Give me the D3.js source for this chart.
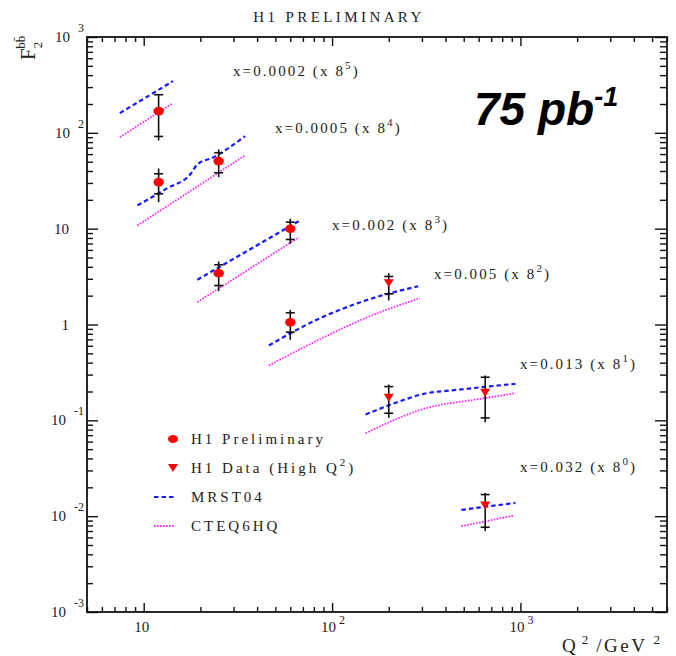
<!DOCTYPE html>
<html>
<head>
<meta charset="utf-8">
<script src="https://cdn.jsdelivr.net/npm/d3@7"></script>
<style>
  body { margin: 0; background: #fff; }
  text { font-family: "Liberation Serif", "Times New Roman", serif; fill: #222; }
</style>
</head>
<body>
<svg id="chart" width="676" height="656"></svg>
<script>
// x bins and the 8^n factor each bin is multiplied by
const binLabels = ["x=0.0002", "x=0.0005", "x=0.002", "x=0.005", "x=0.013", "x=0.032"];
const binPowers = [5, 4, 3, 2, 1, 0];

// H1 preliminary points: [bin, Q2, F2 (scaled), stat low, stat high, total low, total high]
const prelimRows = [
  [0, 12, 168.5, 91.7, 250, 83.3, 250],
  [1, 12, 30.6, 23.1, 37.4, 18.9, 42.5],
  [1, 25, 50.7, 38.3, 62.0, 34.5, 67.1],
  [2, 25, 3.43, 2.55, 4.20, 2.23, 4.55],
  [2, 60, 9.97, 7.71, 11.7, 6.96, 12.7],
  [3, 60, 1.057, 0.831, 1.325, 0.692, 1.42]
];

// H1 high-Q2 points, same layout
const highQ2Rows = [
  [3, 200, 2.70, 2.09, 3.17, 1.78, 3.43],
  [4, 200, 0.1718, 0.1186, 0.225, 0.1062, 0.2364],
  [4, 650, 0.1936, 0.106, 0.2818, 0.0955, 0.2937],
  [5, 650, 0.0129, 0.00766, 0.0168, 0.00699, 0.0175]
];

// MRST04 predictions per bin: [Q2, F2 (scaled)]
const mrstCurves = [
  [[7.47, 160.6], [14.3, 346]],
  [[9.26, 17.5], [13.36, 26.5], [17.76, 37.4], [19.27, 46.8], [23.5, 55.7], [34.5, 92.4]],
  [[19.27, 2.93], [67.5, 12.18]],
  [[46.2, 0.604], [83.5, 1.128], [141.6, 1.71], [286.6, 2.51]],
  [[150.6, 0.1149], [221.7, 0.1545], [307, 0.189], [461, 0.208], [941, 0.2404]],
  [[486, 0.01163], [941, 0.01376]]
];

// CTEQ6HQ predictions per bin
const cteqCurves = [
  [[7.47, 90.2], [14.3, 204]],
  [[9.26, 10.8], [34.5, 58.1]],
  [[19.27, 1.71], [66.7, 8.15]],
  [[46.2, 0.373], [83.5, 0.681], [153.8, 1.19], [292, 1.88]],
  [[150.6, 0.0733], [307, 0.1318], [614, 0.1677], [941, 0.1918]],
  [[486, 0.00785], [921, 0.01015]]
];

// axis tick labels: [value, exponent] (null exponent: plain number)
const xTickLabels = [[10, null], [100, 2], [1000, 3]];
const yTickLabels = [[1000, 3], [100, 2], [10, null], [1, null], [0.1, -1], [0.01, -2], [0.001, -3]];

const legendLabels = ["H1 Preliminary", "H1 Data (High Q", "MRST04", "CTEQ6HQ"];

const svg = d3.select("#chart");
const L = 87, R = 667, T = 37, B = 612;

const x = d3.scaleLog().domain([5, 6000]).range([L, R]);
const y = d3.scaleLog().domain([1e-3, 1e3]).range([B, T]);

const isDecade = v => Math.abs(Math.log10(v) - Math.round(Math.log10(v))) < 1e-9;
const xMajor = x.ticks().filter(isDecade), xMinor = x.ticks().filter(v => !isDecade(v));
const yMajor = y.ticks().filter(isDecade), yMinor = y.ticks().filter(v => !isDecade(v));

// inward-pointing ticks on all four sides
function tickAxis(axisFn, scale, values, size, tx, ty) {
  const g = svg.append("g").attr("transform", `translate(${tx},${ty})`)
    .call(axisFn(scale).tickValues(values).tickSize(size).tickFormat(""));
  g.select(".domain").remove();
  g.selectAll(".tick line").attr("stroke", "#111").attr("stroke-width", 1.4);
}
tickAxis(d3.axisLeft, y, yMajor, -11, L, 0);
tickAxis(d3.axisLeft, y, yMinor, -6, L, 0);
tickAxis(d3.axisRight, y, yMajor, -12, R, 0);
tickAxis(d3.axisRight, y, yMinor, -7, R, 0);
tickAxis(d3.axisBottom, x, xMajor, -9, 0, B);
tickAxis(d3.axisBottom, x, xMinor, -5, 0, B);
tickAxis(d3.axisTop, x, xMajor, -9, 0, T);
tickAxis(d3.axisTop, x, xMinor, -5, 0, T);

svg.append("rect").attr("x", L).attr("y", T).attr("width", R - L).attr("height", B - T)
  .attr("fill", "none").attr("stroke", "#111").attr("stroke-width", 1.8);

// y tick labels
yTickLabels.forEach(([v, e]) => {
  const yy = y(v);
  if (e === null) {
    svg.append("text").attr("x", 69).attr("y", yy + 5).attr("text-anchor", "end")
      .attr("font-size", 15).text(String(v));
  } else {
    const t = svg.append("text").attr("x", 84).attr("y", yy + 5).attr("text-anchor", "end")
      .attr("font-size", 15);
    t.append("tspan").text("10");
    t.append("tspan").attr("dx", 8).attr("dy", -10).attr("font-size", 12).text(String(e));
  }
});

// x tick labels
xTickLabels.forEach(([v, e]) => {
  const xx = x(v);
  if (e === null) {
    svg.append("text").attr("x", xx - 2).attr("y", 632).attr("text-anchor", "middle")
      .attr("font-size", 15).text(String(v));
  } else {
    const t = svg.append("text").attr("x", xx - 11).attr("y", 632).attr("font-size", 15);
    t.append("tspan").text("10");
    t.append("tspan").attr("dx", 3).attr("dy", -8).attr("font-size", 12).text(String(e));
  }
});

// axis titles
const xt = svg.append("text").attr("x", 562).attr("y", 652).attr("font-size", 19);
xt.append("tspan").text("Q");
xt.append("tspan").attr("dx", 6).attr("dy", -8).attr("font-size", 13).text("2");
xt.append("tspan").attr("dx", 8).attr("dy", 8).attr("letter-spacing", 2.5).text("/GeV");
xt.append("tspan").attr("dx", 6).attr("dy", -8).attr("font-size", 13).text("2");

const yt = svg.append("text").attr("transform", "translate(35,60) rotate(-90)").attr("font-size", 21);
yt.append("tspan").text("F");
yt.append("tspan").attr("dy", 7).attr("font-size", 13).text("2");
yt.append("tspan").attr("dx", -7).attr("dy", -17).attr("font-size", 13).text("bb\u0304");

// title and luminosity
svg.append("text").attr("x", 339).attr("y", 22).attr("text-anchor", "middle")
  .attr("font-size", 15).attr("letter-spacing", 3.4).text("H1 PRELIMINARY");

const lum = svg.append("text").attr("x", 474).attr("y", 125)
  .style("font-family", "'Liberation Sans', Arial, sans-serif")
  .attr("font-size", 46).attr("font-weight", "bold").attr("font-style", "italic")
  .style("fill", "#000");
lum.append("tspan").text("75 pb");
lum.append("tspan").attr("dy", -19).attr("font-size", 27).text("-1");

// bin labels
const binLabelPos = [[233, 76], [275, 133], [332, 230], [434, 279], [520, 369], [520, 472]];
binLabels.forEach((lab, i) => {
  const [lx, ly] = binLabelPos[i];
  const t = svg.append("text").attr("x", lx).attr("y", ly).attr("font-size", 15).attr("letter-spacing", 2.1);
  t.append("tspan").text(`${lab} (x 8`);
  t.append("tspan").attr("dy", -7).attr("font-size", 11).text(String(binPowers[i]));
  t.append("tspan").attr("dy", 7).text(")");
});

// theory curves
const line = d3.line().x(d => x(d[0])).y(d => y(d[1])).curve(d3.curveMonotoneX);
const curves = svg.append("g");
cteqCurves.forEach(c => curves.append("path").attr("d", line(c)).attr("fill", "none")
  .attr("stroke", "#ff22ff").attr("stroke-width", 1.8).attr("stroke-dasharray", "1.6,1.4"));
mrstCurves.forEach(c => curves.append("path").attr("d", line(c)).attr("fill", "none")
  .attr("stroke", "#1a1aff").attr("stroke-width", 2.2).attr("stroke-dasharray", "4.5,3"));

// error bars
function errorBars(rows) {
  const g = svg.append("g").attr("stroke", "#111").attr("stroke-width", 1.6);
  rows.forEach(r => {
    const xx = x(r[1]);
    g.append("line").attr("x1", xx).attr("x2", xx).attr("y1", y(r[5])).attr("y2", y(r[6]));
    [r[3], r[4]].forEach(v => g.append("line").attr("x1", xx - 4.5).attr("x2", xx + 4.5)
      .attr("y1", y(v)).attr("y2", y(v)));
  });
}
errorBars(prelimRows);
errorBars(highQ2Rows);

const tri = (cx, cy) => `M${cx - 5},${cy - 4}L${cx + 5},${cy - 4}L${cx},${cy + 4}Z`;

svg.append("g").selectAll("ellipse").data(prelimRows).join("ellipse")
  .attr("cx", d => x(d[1])).attr("cy", d => y(d[2])).attr("rx", 5.2).attr("ry", 4.3).attr("fill", "#ff0000");
svg.append("g").selectAll("path").data(highQ2Rows).join("path")
  .attr("d", d => tri(x(d[1]), y(d[2]))).attr("fill", "#ff0000");

// legend
const lg = svg.append("g");
lg.append("ellipse").attr("cx", 173).attr("cy", 439).attr("rx", 5).attr("ry", 4).attr("fill", "#ff0000");
lg.append("path").attr("d", tri(173, 468)).attr("fill", "#ff0000");
lg.append("line").attr("x1", 154).attr("x2", 174).attr("y1", 497).attr("y2", 497)
  .attr("stroke", "#1a1aff").attr("stroke-width", 2.2).attr("stroke-dasharray", "4.5,3");
lg.append("line").attr("x1", 154).attr("x2", 174).attr("y1", 526).attr("y2", 526)
  .attr("stroke", "#ff22ff").attr("stroke-width", 1.8).attr("stroke-dasharray", "1.6,1.4");
[439, 468, 497, 526].forEach((ly, i) => {
  const t = lg.append("text").attr("x", 191).attr("y", ly + 5).attr("font-size", 15).attr("letter-spacing", 3);
  t.append("tspan").text(legendLabels[i]);
  if (i === 1) {
    t.append("tspan").attr("dy", -7).attr("font-size", 11).text("2");
    t.append("tspan").attr("dy", 7).text(")");
  }
});
</script>
</body>
</html>
